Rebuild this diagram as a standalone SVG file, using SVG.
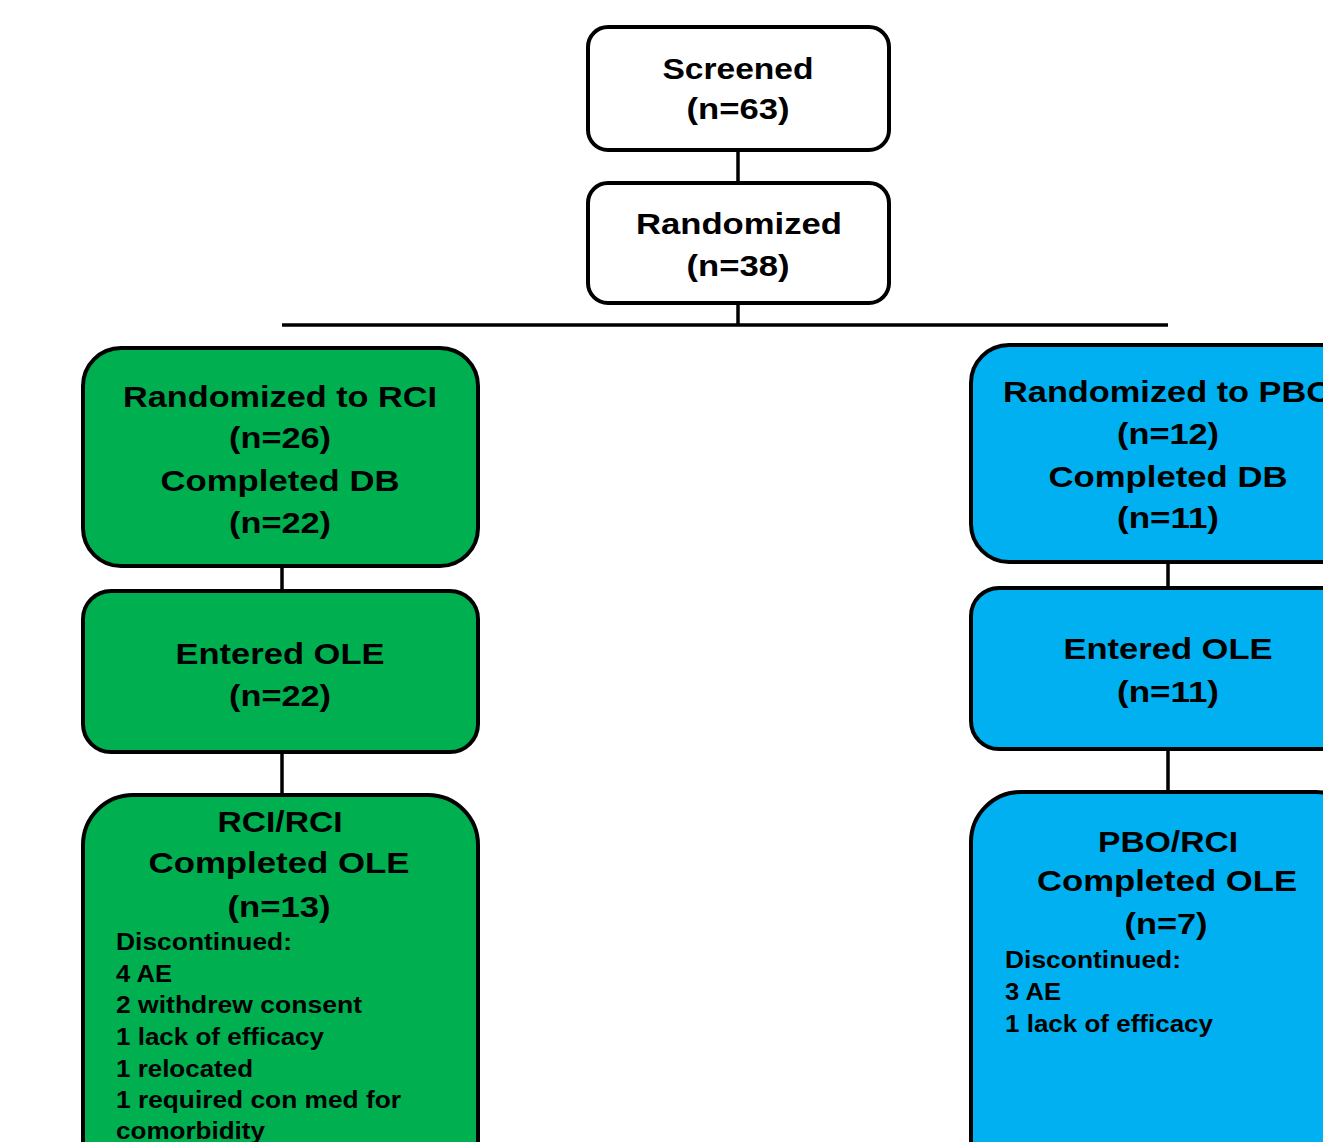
<svg xmlns="http://www.w3.org/2000/svg" width="1323" height="1142" viewBox="0 0 1323 1142">
<style>
.box{stroke:#000;stroke-width:4}
.w{fill:#fff}
.g{fill:#00B050}
.b{fill:#00B0F0}
.t{font-family:"Liberation Sans",Arial,sans-serif;font-weight:bold;font-size:30px;fill:#000;text-anchor:middle}
.d{font-family:"Liberation Sans",Arial,sans-serif;font-weight:bold;font-size:23px;fill:#000}
.c{stroke:#000;stroke-width:3.5;fill:none}
</style>
<rect width="1323" height="1142" fill="#fff"/>
<g id="connectors">
<line class="c" x1="738" y1="150" x2="738" y2="183"/>
<line class="c" x1="738" y1="303" x2="738" y2="325"/>
<line class="c" x1="282" y1="325" x2="1168" y2="325"/>
<line class="c" x1="282" y1="566" x2="282" y2="591"/>
<line class="c" x1="282" y1="752" x2="282" y2="795"/>
<line class="c" x1="1168" y1="562" x2="1168" y2="588"/>
<line class="c" x1="1168" y1="749" x2="1168" y2="792"/>
</g>
<g id="screened">
<rect class="box w" x="588" y="27" width="301" height="123" rx="20"/>
<text class="t" x="738" y="79" textLength="151" lengthAdjust="spacingAndGlyphs">Screened</text>
<text class="t" x="738" y="119" textLength="103" lengthAdjust="spacingAndGlyphs">(n=63)</text>
</g>
<g id="randomized">
<rect class="box w" x="588" y="183" width="301" height="120" rx="20"/>
<text class="t" x="739" y="234" textLength="206" lengthAdjust="spacingAndGlyphs">Randomized</text>
<text class="t" x="738" y="276" textLength="103" lengthAdjust="spacingAndGlyphs">(n=38)</text>
</g>
<g id="rci-db">
<rect class="box g" x="83" y="348" width="395" height="218" rx="38"/>
<text class="t" x="280" y="407" textLength="314" lengthAdjust="spacingAndGlyphs">Randomized to RCI</text>
<text class="t" x="280" y="448" textLength="102" lengthAdjust="spacingAndGlyphs">(n=26)</text>
<text class="t" x="280" y="491" textLength="239" lengthAdjust="spacingAndGlyphs">Completed DB</text>
<text class="t" x="280" y="533" textLength="102" lengthAdjust="spacingAndGlyphs">(n=22)</text>
</g>
<g id="rci-ole">
<rect class="box g" x="83" y="591" width="395" height="161" rx="28"/>
<text class="t" x="280" y="664" textLength="209" lengthAdjust="spacingAndGlyphs">Entered OLE</text>
<text class="t" x="280" y="706" textLength="102" lengthAdjust="spacingAndGlyphs">(n=22)</text>
</g>
<g id="rci-rci">
<rect class="box g" x="83" y="795" width="395" height="400" rx="50"/>
<text class="t" x="280" y="832" textLength="125" lengthAdjust="spacingAndGlyphs">RCI/RCI</text>
<text class="t" x="279" y="873" textLength="261" lengthAdjust="spacingAndGlyphs">Completed OLE</text>
<text class="t" x="279" y="917" textLength="103" lengthAdjust="spacingAndGlyphs">(n=13)</text>
<text class="d" x="116" y="950" textLength="176" lengthAdjust="spacingAndGlyphs">Discontinued:</text>
<text class="d" x="116" y="982" textLength="56" lengthAdjust="spacingAndGlyphs">4 AE</text>
<text class="d" x="116" y="1013" textLength="246" lengthAdjust="spacingAndGlyphs">2 withdrew consent</text>
<text class="d" x="116" y="1045" textLength="208" lengthAdjust="spacingAndGlyphs">1 lack of efficacy</text>
<text class="d" x="116" y="1077" textLength="137" lengthAdjust="spacingAndGlyphs">1 relocated</text>
<text class="d" x="116" y="1108" textLength="285" lengthAdjust="spacingAndGlyphs">1 required con med for</text>
<text class="d" x="116" y="1139" textLength="149" lengthAdjust="spacingAndGlyphs">comorbidity</text>
</g>
<g id="pbo-db">
<rect class="box b" x="971" y="345" width="395" height="217" rx="38"/>
<text class="t" x="1168" y="402" textLength="330" lengthAdjust="spacingAndGlyphs">Randomized to PBO</text>
<text class="t" x="1168" y="444" textLength="102" lengthAdjust="spacingAndGlyphs">(n=12)</text>
<text class="t" x="1168" y="487" textLength="239" lengthAdjust="spacingAndGlyphs">Completed DB</text>
<text class="t" x="1168" y="528" textLength="102" lengthAdjust="spacingAndGlyphs">(n=11)</text>
</g>
<g id="pbo-ole">
<rect class="box b" x="971" y="588" width="395" height="161" rx="28"/>
<text class="t" x="1168" y="659" textLength="209" lengthAdjust="spacingAndGlyphs">Entered OLE</text>
<text class="t" x="1168" y="702" textLength="102" lengthAdjust="spacingAndGlyphs">(n=11)</text>
</g>
<g id="pbo-rci">
<rect class="box b" x="971" y="792" width="395" height="400" rx="50"/>
<text class="t" x="1168" y="852" textLength="140" lengthAdjust="spacingAndGlyphs">PBO/RCI</text>
<text class="t" x="1167" y="891" textLength="260" lengthAdjust="spacingAndGlyphs">Completed OLE</text>
<text class="t" x="1166" y="934" textLength="83" lengthAdjust="spacingAndGlyphs">(n=7)</text>
<text class="d" x="1005" y="968" textLength="176" lengthAdjust="spacingAndGlyphs">Discontinued:</text>
<text class="d" x="1005" y="1000" textLength="56" lengthAdjust="spacingAndGlyphs">3 AE</text>
<text class="d" x="1005" y="1032" textLength="208" lengthAdjust="spacingAndGlyphs">1 lack of efficacy</text>
</g>
</svg>
